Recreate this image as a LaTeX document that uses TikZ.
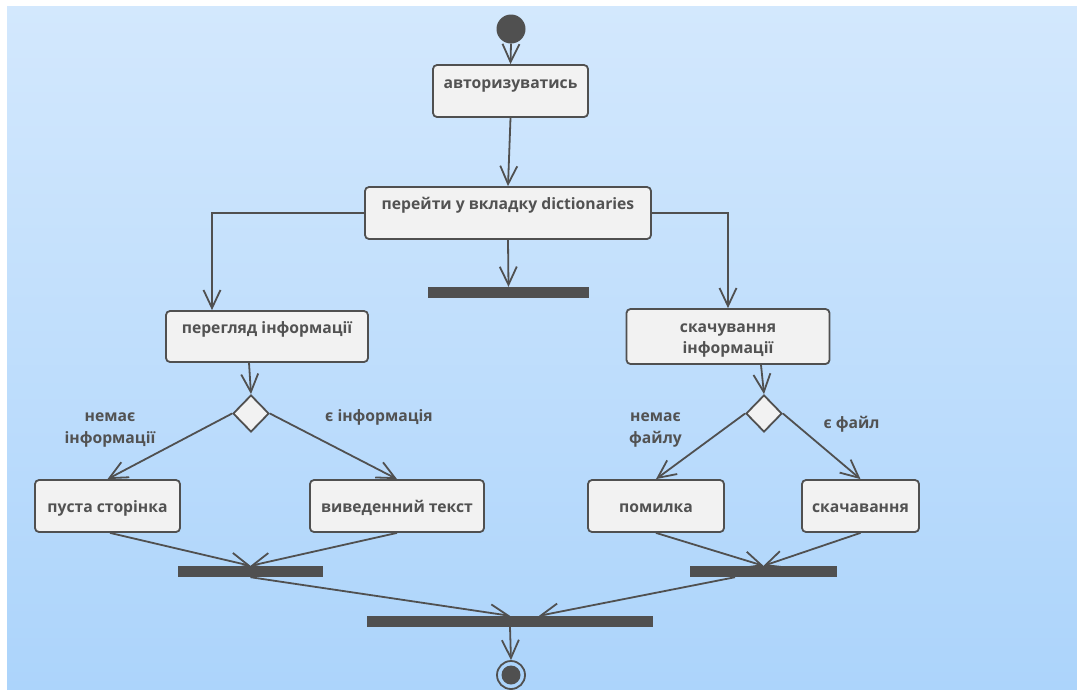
\documentclass[tikz,border=0pt]{standalone}
\usepackage{fontspec}
\setmainfont{Open Sans}
\usetikzlibrary{arrows.meta,calc,shapes.geometric}
\definecolor{lc}{HTML}{505050}
\definecolor{boxfill}{HTML}{F2F2F2}
\definecolor{tc}{HTML}{525252}
\definecolor{bgtop}{HTML}{D3E8FD}
\definecolor{bgbot}{HTML}{ACD4FB}
\tikzset{
  act/.style={draw=lc, fill=boxfill, rounded corners=4pt, line width=1.8pt, inner sep=0pt},
  txt/.style={font=\fontsize{15.7}{22}\selectfont\bfseries, text=tc, inner sep=0pt, anchor=base, align=center},
  bar/.style={fill=lc, draw=none, inner sep=0pt, minimum height=11pt},
  dec/.style={diamond, draw=lc, fill=boxfill, line width=1.8pt, inner sep=0pt, minimum width=36pt, minimum height=37pt},
  arr/.style={draw=lc, line width=1.8pt, -{Straight Barb[length=18pt,width=17pt,line width=1.8pt]}},
  ln/.style={draw=lc, line width=1.8pt}
}
\begin{document}
\begin{tikzpicture}[x=1pt,y=-1pt]
\useasboundingbox (0,0) rectangle (1077,689);
\fill[white] (0,0) rectangle (1077,689);
\shade[top color=bgtop, bottom color=bgbot] (7,6) rectangle (1077,689);

% start / end
\node[circle, fill=lc, minimum size=29pt, inner sep=0pt] (ini) at (511,29) {};
\node[circle, draw=lc, line width=1.8pt, fill=bgbot, minimum size=28pt, inner sep=0pt] (fin) at (511,675) {};
\fill[lc] (fin.center) circle (9.5pt);

% activities
\node[act, minimum width=155pt, minimum height=52pt] (a) at (510.5,91) {};
\node[txt] (at) at (510.5,88) {авторизуватись};
\node[act, minimum width=286pt, minimum height=52pt] (b) at (508,213) {};
\node[txt] (bt) at (508,209) {перейти у вкладку dictionaries};
\node[act, minimum width=202pt, minimum height=51pt] (c) at (267,336.5) {};
\node[txt] (ct) at (267,333) {перегляд інформації};
\node[act, minimum width=203pt, minimum height=55pt] (d) at (728,336.5) {};
\node[txt] (dt1) at (728,332) {скачування};
\node[txt] (dt2) at (728,353) {інформації};
\node[act, minimum width=145pt, minimum height=52pt] (e) at (107.5,506) {};
\node[txt] (et) at (107.5,512) {пуста сторінка};
\node[act, minimum width=174pt, minimum height=52pt] (f) at (397,506) {};
\node[txt] (ft) at (397,512) {виведенний текст};
\node[act, minimum width=136pt, minimum height=52pt] (g) at (656,506) {};
\node[txt] (gt) at (656,512) {помилка};
\node[act, minimum width=117pt, minimum height=52pt] (h) at (860.5,506) {};
\node[txt] (ht) at (860.5,512) {скачавання};

% decisions
\node[dec] (d1) at (251,413.5) {};
\node[dec] (d2) at (764,413.5) {};

% bars
\node[bar, minimum width=161pt] (f1) at (508.5,292.5) {};
\node[bar, minimum width=145pt] (j1) at (250.5,571.5) {};
\node[bar, minimum width=147pt] (j2) at (763.5,571.5) {};
\node[bar, minimum width=286pt] (k) at (510,621.5) {};

% guard labels
\node[txt] (l1a) at (110,421) {немає};
\node[txt] (l1b) at (110,443) {інформації};
\node[txt] (l2) at (379,421) {є інформація};
\node[txt] (l3a) at (655.5,421) {немає};
\node[txt] (l3b) at (655.5,443) {файлу};
\node[txt] (l4) at (851.5,428) {є файл};

% connectors
\draw[arr] (ini.south) -- (a.north);
\draw[arr] (a.south) -- (b.north);
\draw[arr] (b.south) -- (f1.north);
\draw[arr] (b.west) -| ($(c.north)+(-55,0)$);
\draw[arr] (b.east) -| (d.north);
\draw[arr] ($(c.south)+(-18,0)$) -- (d1.north);
\draw[arr] ($(d.south)+(33,0)$) -- (d2.north);
\draw[arr] (d1.west) -- (e.north);
\draw[arr] (d1.east) -- (f.north);
\draw[arr] (d2.west) -- (g.north);
\draw[arr] (d2.east) -- (h.north);
\draw[arr] ($(e.south)+(2.5,0)$) -- (j1.north);
\draw[arr] (f.south) -- (j1.north);
\draw[arr] (g.south) -- (j2.north);
\draw[arr] (h.south) -- (j2.north);
\draw[arr] (j1.south) -- (k.north);
\draw[arr] ($(j2.south)+(-28.5,0)$) -- ($(k.north)+(29,0)$);
\draw[arr] (k.south) -- (fin.north);
\end{tikzpicture}
\end{document}
